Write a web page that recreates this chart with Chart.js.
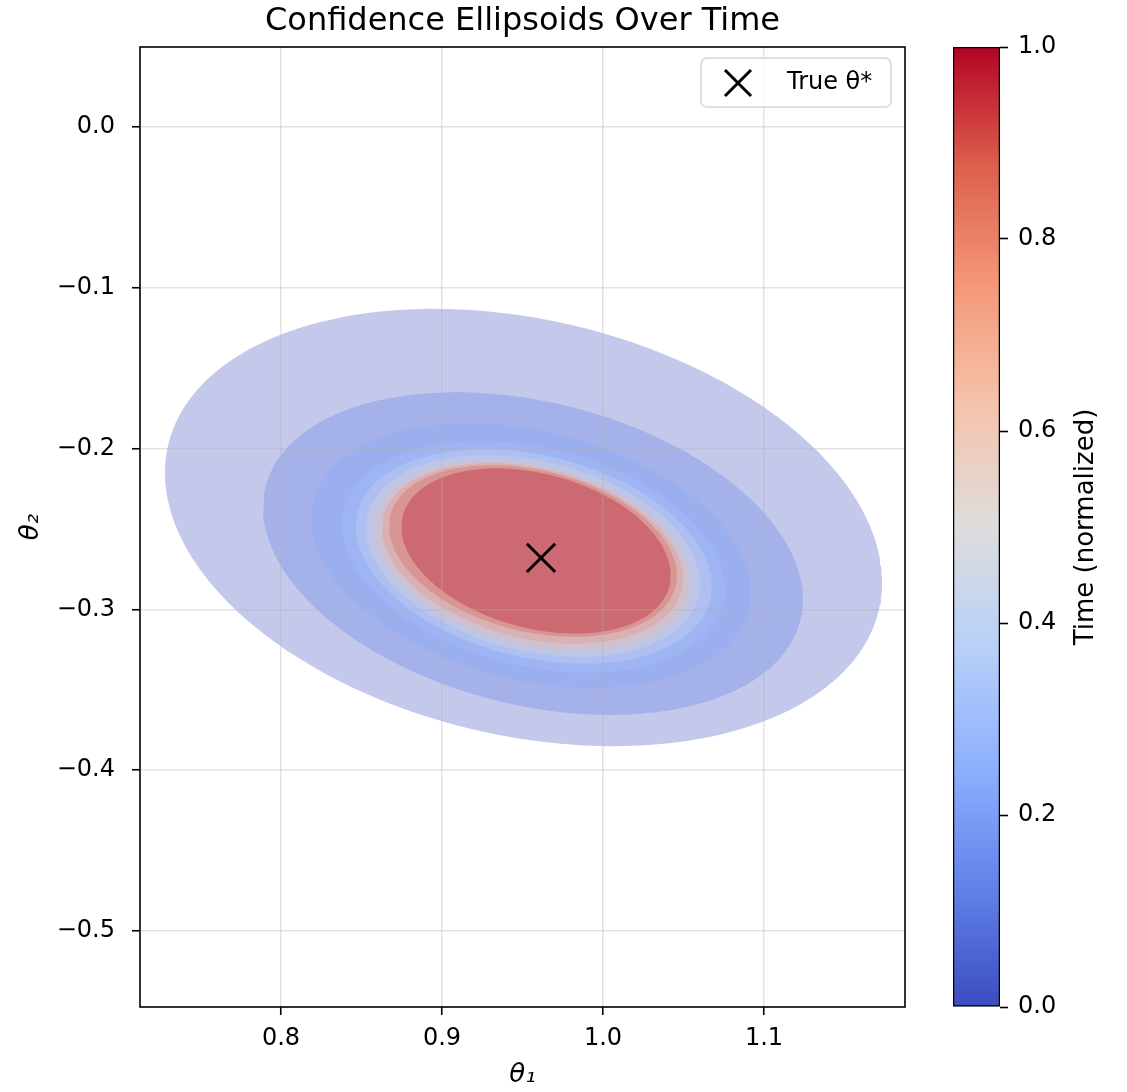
<!DOCTYPE html>
<html lang="en">
<head>
<meta charset="UTF-8">
<title>Confidence Ellipsoids Over Time</title>
<script src="https://cdn.jsdelivr.net/npm/chart.js"></script>
<style>
    html, body {
        margin: 0;
        padding: 0;
        background: #fff;
    }
    #wrap {
        position: relative;
        width: 1127px;
        height: 1092px;
    }
    #main { position: absolute; left: 0; top: 0; }
    #cbar { position: absolute; left: 940px; top: 0; }
</style>
</head>
<body>
<div id="wrap">
    <canvas id="main" width="1127" height="1092"></canvas>
    <canvas id="cbar" width="187" height="1092"></canvas>
</div>

<script>
    // confidence ellipses, earliest (widest) first
    const times     = [0.000, 0.111, 0.222, 0.333, 0.444, 0.556, 0.667, 0.778, 0.889, 1.000];
    const centerX   = [0.9506, 0.9565, 0.9553, 0.9569, 0.9571, 0.9565, 0.9565, 0.9562, 0.9565, 0.9584];
    const centerY   = [-0.2491, -0.2653, -0.2665, -0.2674, -0.2671, -0.2668, -0.2665, -0.2652, -0.2637, -0.2637];
    const semiMajor = [0.2266, 0.1712, 0.1395, 0.1214, 0.1129, 0.1059, 0.0996, 0.0954, 0.0913, 0.0856];
    const semiMinor = [0.1294, 0.0942, 0.0774, 0.0678, 0.0628, 0.0590, 0.0552, 0.0528, 0.0501, 0.0480];
    const angleDeg  = [-13, -14, -14, -14, -14, -14, -14, -14, -14, -15];

    const trueTheta = [0.9615, -0.268];

    const xTicks = [0.8, 0.9, 1.0, 1.1];
    const yTicks = [0.0, -0.1, -0.2, -0.3, -0.4, -0.5];
    const cbarTicks = [0.0, 0.2, 0.4, 0.6, 0.8, 1.0];

    const X_MIN = 0.71242, X_MAX = 1.18758;
    const Y_MIN = -0.5473, Y_MAX = 0.04975;

    // coolwarm colormap sampled at 0, 1/8, ..., 1
    const coolwarmStops = [
        [59, 76, 192], [98, 130, 234], [141, 176, 254], [184, 208, 249],
        [221, 221, 221], [245, 196, 172], [244, 153, 122], [221, 96, 77], [180, 4, 38]
    ];

    const FONT = "'DejaVu Sans', sans-serif";

    function coolwarm(t, alpha) {
        const n = coolwarmStops.length - 1;
        const p = Math.min(Math.max(t, 0), 1) * n;
        const i = Math.min(Math.floor(p), n - 1);
        const f = p - i;
        const a = coolwarmStops[i], b = coolwarmStops[i + 1];
        const c = a.map((v, k) => Math.round(v + (b[k] - v) * f));
        return `rgba(${c[0]}, ${c[1]}, ${c[2]}, ${alpha})`;
    }

    function ellipseOutline(i, n) {
        const th = angleDeg[i] * Math.PI / 180;
        const pts = [];
        for (let k = 0; k <= n; k++) {
            const t = 2 * Math.PI * k / n;
            const dx = semiMajor[i] * Math.cos(t);
            const dy = semiMinor[i] * Math.sin(t);
            pts.push({
                x: centerX[i] + dx * Math.cos(th) - dy * Math.sin(th),
                y: centerY[i] + dx * Math.sin(th) + dy * Math.cos(th)
            });
        }
        return pts;
    }

    function fmt(v) {
        return Number(v).toFixed(1).replace('-', '\u2212');
    }

    const datasets = times.map((t, i) => ({
        label: 't=' + t,
        data: ellipseOutline(i, 240),
        showLine: true,
        fill: 'shape',
        tension: 0,
        pointRadius: 0,
        borderWidth: 0,
        borderColor: 'transparent',
        backgroundColor: coolwarm(t, 0.3),
        order: times.length - i
    }));

    datasets.push({
        label: 'True θ*',
        data: [{ x: trueTheta[0], y: trueTheta[1] }],
        pointStyle: 'crossRot',
        pointRadius: 20,
        borderWidth: 3,
        borderColor: '#000',
        backgroundColor: '#000',
        order: 0
    });

    // axes frame + legend box drawn on top
    const decorPlugin = {
        id: 'decor',
        afterDraw(chart) {
            const { ctx, chartArea: ca } = chart;
            ctx.save();
            ctx.strokeStyle = '#000';
            ctx.lineWidth = 1.6;
            ctx.strokeRect(ca.left, ca.top, ca.right - ca.left, ca.bottom - ca.top);

            const bx = ca.right - 204, by = ca.top + 11, bw = 190, bh = 49, r = 6;
            ctx.beginPath();
            ctx.roundRect(bx, by, bw, bh, r);
            ctx.fillStyle = 'rgba(255,255,255,0.8)';
            ctx.fill();
            ctx.strokeStyle = '#d6d6d6';
            ctx.lineWidth = 1.5;
            ctx.stroke();

            const mx = bx + 37, my = by + 25, s = 13;
            ctx.beginPath();
            ctx.moveTo(mx - s, my - s); ctx.lineTo(mx + s, my + s);
            ctx.moveTo(mx - s, my + s); ctx.lineTo(mx + s, my - s);
            ctx.strokeStyle = '#000';
            ctx.lineWidth = 3;
            ctx.stroke();

            ctx.fillStyle = '#000';
            ctx.font = `24px ${FONT}`;
            ctx.textAlign = 'left';
            ctx.textBaseline = 'middle';
            ctx.fillText('True θ*', bx + 86, my);
            ctx.restore();
        }
    };

    new Chart(document.getElementById('main').getContext('2d'), {
        type: 'scatter',
        data: { datasets },
        options: {
            responsive: false,
            animation: false,
            events: [],
            layout: { padding: { left: 0, right: 222, top: 0, bottom: 0 } },
            plugins: {
                legend: { display: false },
                tooltip: { enabled: false },
                title: {
                    display: true,
                    text: 'Confidence Ellipsoids Over Time',
                    fullSize: false,
                    color: '#000',
                    font: { family: FONT, size: 32, weight: 'normal', lineHeight: 1.2 },
                    padding: { top: 2, bottom: 6.6 }
                }
            },
            scales: {
                x: {
                    type: 'linear',
                    min: X_MIN,
                    max: X_MAX,
                    afterBuildTicks: s => { s.ticks = xTicks.map(v => ({ value: v })); },
                    afterFit: s => { s.height = 85; },
                    grid: { color: 'rgba(176,176,176,0.35)', lineWidth: 1.5, z: 1, tickColor: '#000', tickLength: 8, tickWidth: 1.6 },
                    border: { display: false },
                    ticks: { color: '#000', font: { family: FONT, size: 24 }, padding: 9, maxRotation: 0, autoSkip: false, callback: v => fmt(v) },
                    title: { display: true, text: 'θ₁', color: '#000', font: { family: FONT, size: 26, style: 'italic' }, padding: { top: 0, bottom: 1 } }
                },
                y: {
                    type: 'linear',
                    min: Y_MIN,
                    max: Y_MAX,
                    afterBuildTicks: s => { s.ticks = yTicks.map(v => ({ value: v })); },
                    afterFit: s => { s.width = 140; },
                    grid: { color: 'rgba(176,176,176,0.35)', lineWidth: 1.5, z: 1, tickColor: '#000', tickLength: 8, tickWidth: 1.6 },
                    border: { display: false },
                    ticks: { color: '#000', font: { family: FONT, size: 24 }, padding: 17, autoSkip: false, callback: v => fmt(v) },
                    title: { display: true, text: 'θ₂', color: '#000', font: { family: FONT, size: 26, style: 'italic' }, padding: { top: 16, bottom: 0 } }
                }
            }
        },
        plugins: [decorPlugin]
    });

    // colorbar
    const cbarLabel = {
        id: 'cbarLabel',
        afterDraw(chart) {
            const { ctx, chartArea: ca } = chart;
            ctx.save();
            ctx.translate(146, (ca.top + ca.bottom) / 2);
            ctx.rotate(-Math.PI / 2);
            ctx.fillStyle = '#000';
            ctx.font = `26px ${FONT}`;
            ctx.textAlign = 'center';
            ctx.textBaseline = 'middle';
            ctx.fillText('Time (normalized)', 0, 0);
            ctx.restore();
        }
    };

    new Chart(document.getElementById('cbar').getContext('2d'), {
        type: 'bar',
        data: {
            labels: ['time'],
            datasets: [{
                data: [[cbarTicks[0], cbarTicks[cbarTicks.length - 1]]],
                backgroundColor: c => {
                    const ca = c.chart.chartArea;
                    if (!ca) return null;
                    const g = c.chart.ctx.createLinearGradient(0, ca.bottom, 0, ca.top);
                    coolwarmStops.forEach((s, i) => g.addColorStop(i / (coolwarmStops.length - 1), `rgb(${s[0]},${s[1]},${s[2]})`));
                    return g;
                },
                borderColor: '#000',
                borderWidth: 1.6,
                borderSkipped: false,
                barPercentage: 1,
                categoryPercentage: 1
            }]
        },
        options: {
            responsive: false,
            animation: false,
            events: [],
            layout: { padding: { left: 13, right: 0, top: 47, bottom: 85 } },
            plugins: { legend: { display: false }, tooltip: { enabled: false }, title: { display: false } },
            scales: {
                x: { display: false },
                y: {
                    position: 'right',
                    min: 0,
                    max: 1,
                    afterBuildTicks: s => { s.ticks = cbarTicks.map(v => ({ value: v })); },
                    afterFit: s => { s.width = 127; },
                    grid: { drawOnChartArea: false, tickColor: '#000', tickLength: 8, tickWidth: 1.6 },
                    border: { display: false },
                    ticks: { color: '#000', font: { family: FONT, size: 24 }, padding: 10, callback: v => fmt(v) }
                }
            }
        },
        plugins: [cbarLabel]
    });
</script>
</body>
</html>
